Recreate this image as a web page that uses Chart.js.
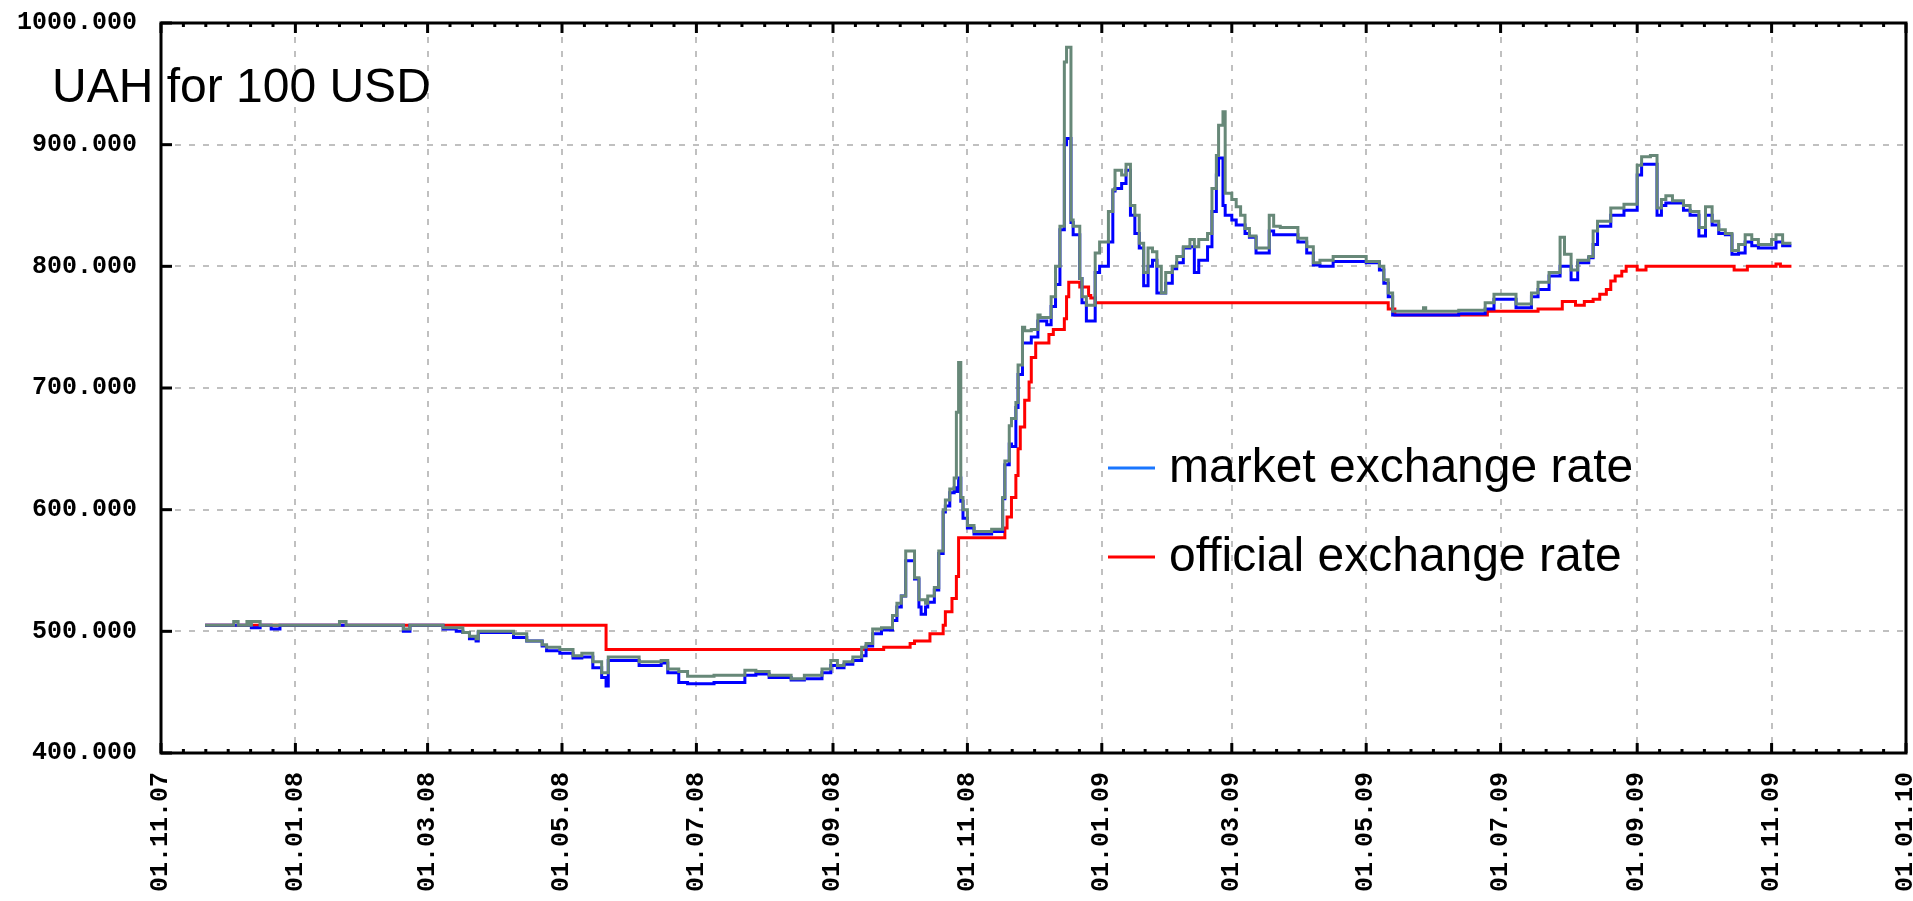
<!DOCTYPE html>
<html>
<head>
<meta charset="utf-8">
<title>UAH for 100 USD</title>
<script src="https://cdn.jsdelivr.net/npm/chart.js@4.4.1/dist/chart.umd.min.js"></script>
<style>
  html, body { margin: 0; padding: 0; background: #fff; }
  canvas { display: block; }
</style>
</head>
<body>
<canvas id="rate-chart" width="1913" height="901"></canvas>
<script>
var titleText = 'UAH for 100 USD';

var xTickLabels = ['01.11.07', '01.01.08', '01.03.08', '01.05.08', '01.07.08', '01.09.08', '01.11.08',
	'01.01.09', '01.03.09', '01.05.09', '01.07.09', '01.09.09', '01.11.09', '01.01.10'];
var yTicks = [400, 500, 600, 700, 800, 900, 1000];

// official NBU rate, value holds until the next date
var officialDates = ['2007-11-21', '2008-05-21', '2008-09-24', '2008-10-06', '2008-10-08', '2008-10-15',
	'2008-10-21', '2008-10-22', '2008-10-25', '2008-10-27', '2008-10-28', '2008-11-18', '2008-11-19',
	'2008-11-21', '2008-11-23', '2008-11-24', '2008-11-25', '2008-11-27', '2008-11-29', '2008-11-30',
	'2008-12-02', '2008-12-08', '2008-12-10', '2008-12-15', '2008-12-16', '2008-12-17', '2008-12-22',
	'2008-12-26', '2008-12-27', '2008-12-29', '2009-05-11', '2009-05-14', '2009-06-25', '2009-07-18',
	'2009-07-29', '2009-08-04', '2009-08-08', '2009-08-12', '2009-08-15', '2009-08-18', '2009-08-20',
	'2009-08-22', '2009-08-25', '2009-08-27', '2009-09-01', '2009-09-05', '2009-10-15', '2009-10-21',
	'2009-11-03', '2009-11-05', '2009-11-10'];
var officialRates = [505, 485, 487, 490, 492, 498,
	505, 516, 527, 545, 577, 585, 594,
	610, 628, 650, 668, 690, 705, 725,
	737, 744, 748, 757, 775, 787, 783,
	776, 774, 770, 765, 760, 763, 765,
	771, 768, 771, 773, 777, 781, 788,
	792, 796, 800, 797, 800, 797, 800,
	802, 800, 800];

// market rate: buy (blue) and sell (grey)
var marketDates = [
	'2007-11-21', '2007-12-04', '2007-12-06', '2007-12-10', '2007-12-11', '2007-12-12', '2007-12-16',
	'2007-12-21', '2007-12-25', '2008-01-21', '2008-01-24', '2008-02-19', '2008-02-22', '2008-03-08',
	'2008-03-14', '2008-03-17', '2008-03-20', '2008-03-23', '2008-03-24', '2008-04-09', '2008-04-15',
	'2008-04-22', '2008-04-24', '2008-04-30', '2008-05-06', '2008-05-10', '2008-05-15', '2008-05-19',
	'2008-05-21', '2008-05-22', '2008-06-05', '2008-06-15', '2008-06-18', '2008-06-23', '2008-06-27',
	'2008-07-09', '2008-07-23', '2008-07-28', '2008-08-03', '2008-08-13', '2008-08-19', '2008-08-27',
	'2008-08-31', '2008-09-03', '2008-09-06', '2008-09-10', '2008-09-14', '2008-09-16', '2008-09-19',
	'2008-09-23', '2008-09-28', '2008-09-30', '2008-10-02', '2008-10-04', '2008-10-08', '2008-10-10',
	'2008-10-11', '2008-10-13', '2008-10-14', '2008-10-17', '2008-10-19', '2008-10-21', '2008-10-22',
	'2008-10-24', '2008-10-26', '2008-10-27', '2008-10-28', '2008-10-29', '2008-10-30', '2008-11-01',
	'2008-11-04', '2008-11-12', '2008-11-17', '2008-11-18', '2008-11-20', '2008-11-21', '2008-11-23',
	'2008-11-24', '2008-11-26', '2008-11-27', '2008-11-30', '2008-12-03', '2008-12-04', '2008-12-07',
	'2008-12-09', '2008-12-11', '2008-12-13', '2008-12-15', '2008-12-16', '2008-12-18', '2008-12-19',
	'2008-12-22', '2008-12-23', '2008-12-25', '2008-12-29', '2008-12-31', '2009-01-04', '2009-01-06',
	'2009-01-07', '2009-01-10', '2009-01-12', '2009-01-14', '2009-01-16', '2009-01-18', '2009-01-20',
	'2009-01-22', '2009-01-24', '2009-01-26', '2009-01-28', '2009-01-30', '2009-02-02', '2009-02-04',
	'2009-02-07', '2009-02-10', '2009-02-12', '2009-02-14', '2009-02-18', '2009-02-20', '2009-02-22',
	'2009-02-23', '2009-02-25', '2009-02-26', '2009-03-01', '2009-03-03', '2009-03-05', '2009-03-07',
	'2009-03-09', '2009-03-12', '2009-03-18', '2009-03-20', '2009-03-23', '2009-03-31', '2009-04-04',
	'2009-04-07', '2009-04-10', '2009-04-16', '2009-05-01', '2009-05-07', '2009-05-09', '2009-05-11',
	'2009-05-13', '2009-05-27', '2009-05-28', '2009-06-12', '2009-06-24', '2009-06-28', '2009-07-08',
	'2009-07-15', '2009-07-18', '2009-07-23', '2009-07-28', '2009-07-30', '2009-08-02', '2009-08-05',
	'2009-08-10', '2009-08-12', '2009-08-14', '2009-08-20', '2009-08-26', '2009-09-01', '2009-09-03',
	'2009-09-07', '2009-09-10', '2009-09-12', '2009-09-14', '2009-09-17', '2009-09-22', '2009-09-25',
	'2009-09-29', '2009-10-02', '2009-10-05', '2009-10-08', '2009-10-11', '2009-10-14', '2009-10-17',
	'2009-10-20', '2009-10-23', '2009-10-26', '2009-11-01', '2009-11-03', '2009-11-06', '2009-11-10'];
var marketBuy = [
	505, 505, 505, 505, 505, 503, 505,
	502, 505, 505, 505, 500, 505, 502,
	500, 499, 494, 492, 499, 495, 492,
	488, 484, 482, 478, 479, 470, 462,
	455, 476, 472, 474, 466, 458, 457,
	458, 464, 465, 462, 460, 461, 466,
	472, 470, 473, 476, 480, 488, 498,
	501, 509, 520, 529, 558, 543, 520,
	514, 520, 524, 534, 564, 598, 603,
	614, 618, 615, 626, 607, 593, 585,
	580, 582, 609, 637, 654, 652, 684,
	711, 737, 737, 742, 755, 755, 752,
	767, 785, 830, 900, 905, 836, 826,
	790, 770, 755, 795, 800, 820, 862,
	864, 868, 879, 842, 827, 815, 784,
	800, 805, 778, 778, 786, 798, 803,
	815, 816, 795, 805, 816, 845, 875,
	889, 850, 842, 838, 834, 834, 827,
	824, 811, 829, 826, 826, 820, 811,
	801, 800, 804, 803, 797, 786, 775,
	760, 760, 760, 761, 765, 773, 766,
	775, 781, 792, 800, 800, 789, 803,
	807, 818, 833, 842, 846, 875, 884,
	884, 842, 850, 852, 852, 846, 842,
	825, 842, 834, 827, 826, 810, 811,
	820, 817, 815, 815, 820, 817, 817];
var marketSell = [
	505, 508, 505, 508, 505, 508, 505,
	505, 505, 508, 505, 502, 505, 503,
	503, 499, 496, 494, 500, 498, 492,
	489, 487, 485, 480, 482, 475, 466,
	466, 479, 475, 476, 469, 467, 463,
	464, 468, 467, 464, 461, 464, 469,
	476, 472, 475, 479, 487, 490, 502,
	503, 513, 523, 529, 566, 544, 526,
	526, 523, 529, 536, 566, 600, 608,
	617, 626, 680, 721, 610, 600, 587,
	582, 584, 610, 640, 669, 675, 688,
	719, 750, 747, 748, 760, 758, 758,
	775, 800, 833, 968, 980, 838, 833,
	790, 775, 768, 811, 820, 845, 863,
	879, 875, 884, 850, 842, 819, 795,
	815, 812, 800, 778, 795, 800, 808,
	816, 822, 816, 822, 827, 864, 891,
	916, 927, 860, 855, 849, 842, 831,
	825, 815, 842, 833, 832, 823, 816,
	803, 805, 808, 804, 800, 789, 778,
	763, 766, 763, 764, 770, 777, 769,
	778, 787, 795, 824, 810, 797, 805,
	808, 829, 837, 848, 851, 883, 890,
	891, 848, 855, 858, 854, 850, 845,
	832, 849, 837, 830, 827, 813, 818,
	826, 822, 818, 822, 826, 819, 819];

var legendLabels = ['market exchange rate', 'official exchange rate'];
var legendColors = ['#1a76ff', '#ff0000'];

var startDay = Date.UTC(2007, 10, 1);
function dayOf(iso) {
	var p = iso.split('-');
	return (Date.UTC(+p[0], +p[1] - 1, +p[2]) - startDay) / 86400000;
}
function dayOfLabel(lbl) {
	var p = lbl.split('.');
	return dayOf('20' + p[2] + '-' + p[1] + '-' + p[0]);
}
function series(dates, values) {
	return dates.map(function (d, i) { return {x: dayOf(d), y: values[i]}; });
}
var xTickDays = xTickLabels.map(dayOfLabel);

var frame = {
	id: 'frame',
	afterDraw: function (chart) {
		var ctx = chart.ctx, a = chart.chartArea, xs = chart.scales.x, ys = chart.scales.y;
		ctx.save();
		ctx.strokeStyle = '#000';
		ctx.lineWidth = 3;
		ctx.strokeRect(a.left, a.top, a.right - a.left, a.bottom - a.top);
		ctx.fillStyle = '#000';
		var majors = xs.ticks.map(function (t) { return xs.getPixelForValue(t.value); });
		majors.forEach(function (px) {
			ctx.fillRect(px - 1.5, a.bottom - 10, 3, 10);
			ctx.fillRect(px - 1.5, a.top, 3, 10);
		});
		for (var i = 0; i < majors.length - 1; i++) {
			for (var k = 1; k < 6; k++) {
				var px = majors[i] + (majors[i + 1] - majors[i]) * k / 6;
				ctx.fillRect(px - 1.5, a.bottom - 4, 3, 4);
				ctx.fillRect(px - 1.5, a.top, 3, 4);
			}
		}
		ys.ticks.forEach(function (t) {
			ctx.fillRect(a.left, ys.getPixelForValue(t.value) - 1.5, 11, 3);
		});

		ctx.font = '48px "Liberation Sans", Arial, sans-serif';
		ctx.textAlign = 'left';
		ctx.textBaseline = 'alphabetic';
		ctx.fillText(titleText, 52, 102);

		legendLabels.forEach(function (lbl, j) {
			var ly = 468 + j * 89;
			ctx.fillStyle = legendColors[j];
			ctx.fillRect(1108, ly - 1.5, 47, 3);
			ctx.fillStyle = '#000';
			ctx.fillText(lbl, 1169, ly + 14);
		});
		ctx.restore();
	}
};

var tickFont = {family: '"Liberation Mono", "DejaVu Sans Mono", monospace', size: 25, weight: 'bold'};

var ctx = document.getElementById('rate-chart').getContext('2d');
var myChart = new Chart(ctx, {
	type: 'line',
	data: {
		datasets: [{
			label: 'market exchange rate, sell',
			data: series(marketDates, marketSell),
			borderColor: '#678878',
			borderWidth: 3,
			order: 1
		}, {
			label: legendLabels[0],
			data: series(marketDates, marketBuy),
			borderColor: '#0000ff',
			borderWidth: 3,
			order: 2
		}, {
			label: legendLabels[1],
			data: series(officialDates, officialRates),
			borderColor: '#ff0000',
			borderWidth: 3,
			order: 3
		}]
	},
	options: {
		responsive: false,
		animation: false,
		events: [],
		parsing: false,
		layout: {padding: {top: 23, right: 7, bottom: 0, left: 0}},
		elements: {
			line: {stepped: true, tension: 0, fill: false},
			point: {radius: 0}
		},
		plugins: {legend: {display: false}, tooltip: {enabled: false}},
		scales: {
			x: {
				type: 'linear',
				min: xTickDays[0],
				max: xTickDays[xTickDays.length - 1],
				afterBuildTicks: function (scale) {
					scale.ticks = xTickDays.map(function (d) { return {value: d}; });
				},
				afterFit: function (scale) {
					scale.height = 148;
					scale.paddingLeft = 0;
					scale.paddingRight = 0;
				},
				grid: {color: '#c0c0c0', lineWidth: 2, drawTicks: false},
				border: {display: false, dash: [6, 8]},
				ticks: {
					autoSkip: false,
					minRotation: 90,
					maxRotation: 90,
					padding: 19,
					color: '#000',
					font: tickFont,
					callback: function (v) { return xTickLabels[xTickDays.indexOf(v)]; }
				}
			},
			y: {
				min: yTicks[0],
				max: yTicks[yTicks.length - 1],
				afterBuildTicks: function (scale) {
					scale.ticks = yTicks.map(function (v) { return {value: v}; });
				},
				afterFit: function (scale) {
					scale.width = 161;
					scale.paddingTop = 0;
					scale.paddingBottom = 0;
				},
				grid: {color: '#c0c0c0', lineWidth: 2, drawTicks: false},
				border: {display: false, dash: [6, 8]},
				ticks: {
					padding: 24,
					color: '#000',
					font: tickFont,
					callback: function (v) { return v.toFixed(3); }
				}
			}
		}
	},
	plugins: [frame]
});
</script>
</body>
</html>
